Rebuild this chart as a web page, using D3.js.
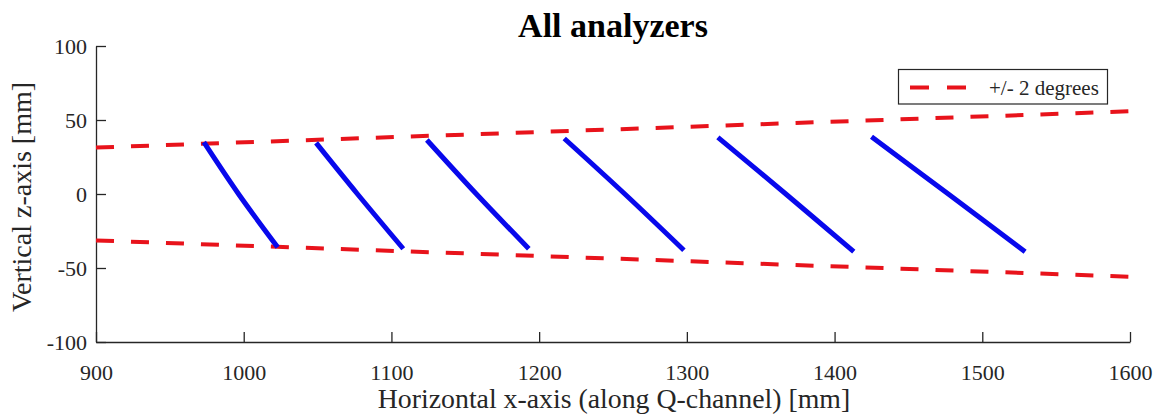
<!DOCTYPE html>
<html>
<head>
<meta charset="utf-8">
<script src="https://cdn.jsdelivr.net/npm/d3@7"></script>
<style>
  body { margin: 0; background: #fff; }
  svg { display: block; }
  text { font-family: "Liberation Serif", "Times New Roman", serif; fill: #262626; }
</style>
</head>
<body>
<div id="chart"></div>
<script>
// +/- 2 degree bounds (endpoints)
const boundX = [900, 1600];
const upperZ = [31.4, 55.9];
const lowerZ = [-31.4, -55.9];

// analyzer traces: x and z for top, middle and bottom point of each
const analyzerX = [
    [973, 996.5, 1023],
    [1049, 1077, 1108],
    [1124, 1157.5, 1193],
    [1217, 1258, 1298],
    [1321, 1367, 1413],
    [1425, 1477, 1529]
];
const analyzerZ = [
    [35, 0, -36],
    [34.5, 0, -37],
    [36.5, 0, -37],
    [37.5, 0, -38],
    [38.3, 0, -39],
    [38.7, 0, -39]
];

const xTicks = [900, 1000, 1100, 1200, 1300, 1400, 1500, 1600];
const yTicks = [-100, -50, 0, 50, 100];
const legendLabel = "+/- 2 degrees";

const serif = "'Liberation Serif', 'Times New Roman', serif";
const width = 1158;
const height = 414;
const mLeft = 96, mRight = 1130, mTop = 46, mBottom = 342;

const svg = d3.select("#chart").append("svg")
    .attr("width", width)
    .attr("height", height);

const x = d3.scaleLinear().domain([900, 1600]).range([mLeft, mRight]);
const y = d3.scaleLinear().domain([-100, 100]).range([mBottom, mTop]);

// axes (ticks pointing inward, no box)
const xAxis = svg.append("g")
    .attr("transform", "translate(0," + mBottom + ")")
    .call(d3.axisBottom(x).tickValues(xTicks).tickFormat(d => String(d))
        .tickSizeInner(-10).tickSizeOuter(0).tickPadding(22));

const yAxis = svg.append("g")
    .attr("transform", "translate(" + mLeft + ",0)")
    .call(d3.axisLeft(y).tickValues(yTicks).tickFormat(d => String(d))
        .tickSizeInner(-10).tickSizeOuter(0).tickPadding(9));

[xAxis, yAxis].forEach(function (g) {
    g.attr("font-family", null).attr("font-size", null);
    g.select(".domain").attr("stroke", "#262626").attr("stroke-width", 1.3);
    g.selectAll(".tick line").attr("stroke", "#262626").attr("stroke-width", 1.3);
    g.selectAll(".tick text")
        .style("font-family", serif)
        .style("font-size", "22px")
        .style("fill", "#262626");
});

// bounds
const line = d3.line()
    .x(d => x(d[0]))
    .y(d => y(d[1]));

[upperZ, lowerZ].forEach(function (zs) {
    svg.append("path")
        .datum(boundX.map((v, i) => [v, zs[i]]))
        .attr("d", line)
        .attr("fill", "none")
        .attr("stroke", "#e8131b")
        .attr("stroke-width", 4)
        .attr("stroke-dasharray", "18,17");
});

// analyzers
const curve = d3.line()
    .x(d => x(d[0]))
    .y(d => y(d[1]))
    .curve(d3.curveCatmullRom);

analyzerX.forEach(function (xs, i) {
    svg.append("path")
        .datum(xs.map((v, j) => [v, analyzerZ[i][j]]))
        .attr("d", curve)
        .attr("fill", "none")
        .attr("stroke", "#0808ec")
        .attr("stroke-width", 5);
});

// title and labels
svg.append("text")
    .attr("x", (mLeft + mRight) / 2)
    .attr("y", 37)
    .attr("text-anchor", "middle")
    .style("font-family", serif)
    .style("font-size", "34px")
    .style("font-weight", "bold")
    .style("fill", "#000")
    .text("All analyzers");

svg.append("text")
    .attr("x", (mLeft + mRight) / 2 + 1)
    .attr("y", 408)
    .attr("text-anchor", "middle")
    .style("font-family", serif)
    .style("font-size", "27.8px")
    .text("Horizontal x-axis (along Q-channel) [mm]");

svg.append("text")
    .attr("transform", "translate(31,197) rotate(-90)")
    .attr("text-anchor", "middle")
    .style("font-family", serif)
    .style("font-size", "28px")
    .text("Vertical z-axis [mm]");

// legend
const legend = svg.append("g");
legend.append("rect")
    .attr("x", 898.5).attr("y", 69.5)
    .attr("width", 209).attr("height", 34.5)
    .attr("fill", "#fff")
    .attr("stroke", "#262626")
    .attr("stroke-width", 1.2);
legend.append("line")
    .attr("x1", 910).attr("x2", 967)
    .attr("y1", 87.5).attr("y2", 87.5)
    .attr("stroke", "#e8131b")
    .attr("stroke-width", 4)
    .attr("stroke-dasharray", "19,18");
legend.append("text")
    .attr("x", 989)
    .attr("y", 95)
    .style("font-family", serif)
    .style("font-size", "21px")
    .text(legendLabel);
</script>
</body>
</html>
